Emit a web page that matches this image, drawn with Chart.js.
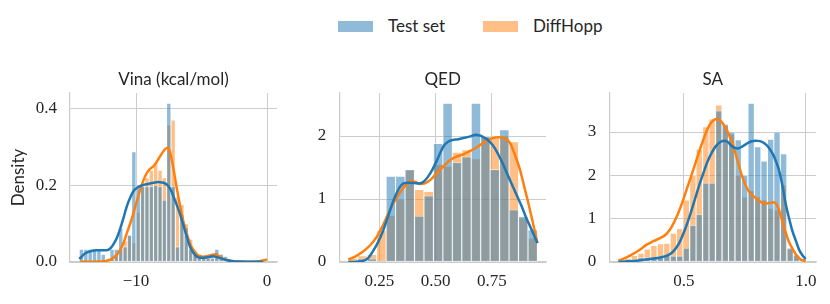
<!DOCTYPE html>
<html><head><meta charset="utf-8">
<script src="https://cdn.jsdelivr.net/npm/chart.js@4.4.1/dist/chart.umd.min.js"></script>
<style>
html,body{margin:0;padding:0;background:#fff;}
#wrap{position:relative;width:830px;height:304px;overflow:hidden;background:#fff;}
canvas{position:absolute;top:0;}
.leg{position:absolute;font-family:Lato,sans-serif;font-size:17px;line-height:20px;color:#262626;white-space:nowrap;}
.patch{position:absolute;width:35px;height:11px;}
</style></head><body>
<div id="wrap">
  <div class="patch" style="left:338px;top:21px;background:rgba(31,119,180,0.5)"></div>
  <div class="leg" style="left:388px;top:16px">Test set</div>
  <div class="patch" style="left:483px;top:21px;background:rgba(255,127,14,0.5)"></div>
  <div class="leg" style="left:533px;top:16px">DiffHopp</div>
  <canvas id="c1" width="290" height="304" style="left:0px"></canvas>
  <canvas id="c2" width="270" height="304" style="left:290px"></canvas>
  <canvas id="c3" width="270" height="304" style="left:560px"></canvas>
</div>
<script>
// ---------- Vina (kcal/mol) ----------
const vinaBins = [-14.167,-13.833,-13.5,-13.167,-12.833,-12.5,-12.167,-11.833,-11.5,-11.167,-10.833,-10.5,-10.167,-9.833,-9.5,-9.167,-8.833,-8.5,-8.167,-7.833,-7.5,-7.167,-6.833,-6.5,-6.167,-5.833,-5.5,-5.167,-4.833,-4.5,-4.167,-3.833,-3.5,-3.167,-2.833,-2.5,-2.167,-1.833,-1.5,-1.167,-0.833,-0.5,-0.167];
const vinaTest = [0.033,0.033,0.033,0.033,0.033,0.02,0,0.033,0.033,0.088,0.04,0.07,0.288,0.197,0.197,0.197,0.197,0.2,0.197,0.162,0.415,0.197,0.04,0.125,0.09,0.033,0.02,0.01,0.01,0.01,0.01,0.033,0.02,0.015,0.005,0,0,0,0,0,0,0,0];
const vinaDiff = [0.003,0,0,0.003,0.003,0.007,0.01,0.01,0.02,0.035,0.055,0.07,0.05,0.13,0.2,0.22,0.24,0.26,0.24,0.22,0.358,0.371,0.17,0.15,0.1,0.06,0.03,0.02,0.015,0.015,0.02,0.025,0.02,0.01,0.005,0,0,0,0,0,0,0,0.01];
const vinaKdeTestX = [-14.33,-13.9,-13.5,-13.0,-12.5,-12.24,-11.95,-11.73,-11.45,-11.22,-10.95,-10.71,-10.45,-10.2,-9.9,-9.57,-9.1,-8.68,-8.3,-8.04,-7.75,-7.53,-7.3,-7.15,-6.9,-6.64,-6.4,-6.13,-5.9,-5.63,-5.35,-5.11,-4.85,-4.6,-4.3,-4.1,-3.85,-3.59,-3.3,-3.08,-2.57,-2.0,-1.0,-0.3];
const vinaKdeTestY = [0.008,0.022,0.028,0.031,0.031,0.031,0.036,0.046,0.064,0.086,0.116,0.145,0.168,0.185,0.195,0.2,0.204,0.207,0.209,0.208,0.205,0.198,0.185,0.172,0.15,0.125,0.097,0.067,0.042,0.024,0.014,0.011,0.011,0.012,0.014,0.015,0.013,0.01,0.007,0.005,0.002,0.001,0.0005,0.0005];
const vinaKdeDiffX = [-14.3,-13.5,-12.75,-12.24,-11.95,-11.73,-11.45,-11.22,-10.95,-10.71,-10.45,-10.2,-9.95,-9.69,-9.45,-9.19,-8.95,-8.68,-8.42,-8.17,-7.9,-7.66,-7.5,-7.35,-7.15,-6.9,-6.64,-6.4,-6.13,-5.9,-5.63,-5.35,-5.11,-4.85,-4.6,-4.3,-3.97,-3.7,-3.46,-3.1,-2.82,-2.3,-1.5,-0.8,-0.4,-0.15,0.0];
const vinaKdeDiffY = [0.0005,0.0005,0.001,0.003,0.006,0.011,0.02,0.032,0.05,0.075,0.1,0.127,0.158,0.188,0.212,0.232,0.243,0.25,0.262,0.276,0.29,0.298,0.296,0.28,0.245,0.195,0.148,0.108,0.075,0.05,0.032,0.02,0.015,0.014,0.015,0.018,0.02,0.016,0.01,0.005,0.003,0.001,0.0005,0.001,0.003,0.005,0.007];
const vinaXTicks = [-10, 0];
const vinaXLabels = ['\u221210', '0'];
const vinaYTicks = [0, 0.2, 0.4];
const vinaYLabels = ['0.0', '0.2', '0.4'];

// ---------- QED ----------
const qedBins = [0.133,0.175,0.217,0.259,0.301,0.343,0.385,0.427,0.469,0.511,0.553,0.595,0.637,0.679,0.721,0.763,0.805,0.847,0.889,0.931];
const qedTest = [0,0.05,0.05,0,1.36,1.36,1.47,0.73,1.05,1.88,2.52,1.58,1.67,2.52,1.99,1.47,2.1,0.83,0.72,0.51];
const qedDiff = [0.06,0.1,0.12,0.5,0.74,1.0,1.46,1.15,1.12,1.55,1.52,1.74,1.78,1.64,2.0,1.96,2.0,1.91,0.7,0.38];
const qedKdeTestX = [0.112,0.15,0.18,0.2,0.223,0.245,0.267,0.29,0.311,0.33,0.345,0.362,0.382,0.405,0.426,0.44,0.456,0.478,0.5,0.52,0.537,0.555,0.574,0.6,0.619,0.65,0.678,0.695,0.708,0.73,0.752,0.775,0.797,0.825,0.856,0.88,0.9,0.925,0.952];
const qedKdeTestY = [0.0,0.005,0.02,0.06,0.18,0.32,0.5,0.74,0.96,1.12,1.21,1.255,1.26,1.255,1.245,1.26,1.31,1.42,1.57,1.73,1.85,1.91,1.935,1.95,1.965,1.99,2.02,2.01,1.99,1.94,1.86,1.73,1.57,1.34,1.09,0.9,0.72,0.52,0.3];
const qedKdeDiffX = [0.112,0.14,0.179,0.21,0.238,0.268,0.297,0.325,0.349,0.37,0.393,0.41,0.43,0.452,0.475,0.497,0.519,0.54,0.564,0.59,0.623,0.645,0.668,0.69,0.712,0.735,0.757,0.78,0.8,0.815,0.83,0.85,0.875,0.893,0.912,0.93,0.952];
const qedKdeDiffY = [0.04,0.08,0.17,0.27,0.4,0.6,0.83,1.01,1.14,1.23,1.28,1.27,1.24,1.25,1.3,1.38,1.46,1.54,1.62,1.67,1.71,1.75,1.79,1.84,1.89,1.94,1.97,1.98,1.97,1.95,1.89,1.72,1.46,1.2,0.93,0.65,0.3];
const qedXTicks = [0.25, 0.5, 0.75];
const qedXLabels = ['0.25', '0.50', '0.75'];
const qedYTicks = [0, 1, 2];
const qedYLabels = ['0', '1', '2'];

// ---------- SA ----------
const saBins = [0.244,0.271,0.297,0.324,0.350,0.377,0.404,0.430,0.457,0.483,0.510,0.537,0.563,0.590,0.616,0.643,0.670,0.696,0.723,0.749,0.776,0.803,0.829,0.856,0.882,0.909,0.936,0.962,0.989];
const saTest = [0,0.02,0.05,0.1,0.1,0.1,0.12,0.16,0.14,0.14,0.32,0.85,1.1,1.82,1.82,3.49,3.18,3.0,2.82,2.0,3.66,2.66,2.33,2.83,3.0,2.5,0.32,0.16,0.08];
const saDiff = [0.03,0.08,0.15,0.2,0.3,0.38,0.42,0.43,0.66,0.77,1.43,2.0,2.6,3.12,3.3,3.62,3.15,2.95,2.0,1.5,1.65,1.5,1.43,1.24,1.2,1.78,0.3,0.16,0.08];
const saKdeTestX = [0.231,0.27,0.306,0.34,0.374,0.4,0.428,0.445,0.462,0.48,0.496,0.513,0.53,0.547,0.564,0.581,0.598,0.615,0.632,0.65,0.667,0.68,0.694,0.707,0.721,0.738,0.755,0.775,0.796,0.813,0.83,0.847,0.864,0.878,0.891,0.905,0.918,0.932,0.945,0.96,0.973,0.987,1.0];
const saKdeTestY = [0.0,0.015,0.03,0.055,0.08,0.1,0.14,0.19,0.28,0.43,0.63,0.88,1.17,1.48,1.79,2.07,2.33,2.53,2.68,2.77,2.8,2.77,2.69,2.64,2.62,2.66,2.72,2.78,2.8,2.79,2.74,2.65,2.5,2.32,2.1,1.74,1.33,1.0,0.72,0.48,0.28,0.15,0.07];
const saKdeDiffX = [0.231,0.258,0.286,0.316,0.347,0.375,0.402,0.425,0.443,0.46,0.477,0.494,0.511,0.531,0.552,0.572,0.593,0.61,0.627,0.638,0.648,0.662,0.675,0.689,0.703,0.716,0.73,0.744,0.757,0.771,0.785,0.8,0.812,0.825,0.839,0.853,0.867,0.877,0.887,0.9,0.914,0.93,0.948,0.965,0.982,1.0];
const saKdeDiffY = [0.03,0.09,0.17,0.27,0.4,0.48,0.55,0.63,0.75,0.92,1.13,1.38,1.67,2.0,2.36,2.7,3.02,3.2,3.29,3.3,3.27,3.18,3.06,2.88,2.68,2.42,2.14,1.9,1.72,1.6,1.52,1.45,1.4,1.36,1.35,1.36,1.38,1.35,1.25,1.02,0.75,0.48,0.28,0.13,0.05,0.02];
const saXTicks = [0.5, 1.0];
const saXLabels = ['0.5', '1.0'];
const saYTicks = [0, 1, 2, 3];
const saYLabels = ['0', '1', '2', '3'];

// ---------- styling ----------
const BLUE = '#1f77b4', ORANGE = '#ff7f0e';
const BLUE_FILL = 'rgba(31,119,180,0.5)', ORANGE_FILL = 'rgba(255,127,14,0.5)';
const TEXT = '#262626', GRID = '#cccccc';
const tickFont = {family: 'Liberation Serif', size: 17};
const sansFont = {family: 'Lato', size: 17, weight: 'normal'};

function hist(bins, vals, color, order) {
  return {type: 'bar', data: bins.map((x, i) => ({x: x, y: vals[i]})),
    backgroundColor: color, borderColor: 'rgba(255,255,255,0.5)', borderWidth: 0.8,
    borderSkipped: false, barPercentage: 1, categoryPercentage: 1, grouped: false, order: order};
}
function kde(xs, ys, color, order) {
  return {type: 'line', data: xs.map((x, i) => ({x: x, y: ys[i]})),
    borderColor: color, borderWidth: 2.5, pointRadius: 0, fill: false,
    cubicInterpolationMode: 'monotone', order: order};
}
function panel(id, c) {
  new Chart(document.getElementById(id), {
    type: 'bar',
    data: {datasets: [
      kde(c.ktx, c.kty, BLUE, 0),
      kde(c.kdx, c.kdy, ORANGE, 1),
      hist(c.bins, c.test, BLUE_FILL, 2),
      hist(c.bins, c.diff, ORANGE_FILL, 3)
    ]},
    options: {
      responsive: false, animation: false, events: [],
      layout: {padding: {top: 69.3, right: c.padRight, left: 0, bottom: 0}},
      plugins: {
        legend: {display: false}, tooltip: {enabled: false},
        title: {display: true, text: c.title, fullSize: false, font: sansFont, color: TEXT,
                padding: {top: 0, bottom: 3.3}}
      },
      scales: {
        x: {type: 'linear', min: c.xmin, max: c.xmax, offset: false,
            grid: {color: GRID, lineWidth: 1, drawTicks: false, offset: false},
            border: {display: true, color: GRID, width: 1.2},
            ticks: {font: tickFont, color: TEXT, padding: 9.5, autoSkip: false, maxRotation: 0,
                    callback: (v, i) => c.xl[i]},
            afterBuildTicks: s => { s.ticks = c.xt.map(v => ({value: v})); },
            afterFit: s => { s.height = 42; }},
        y: {type: 'linear', min: 0, max: c.ymax,
            grid: {color: GRID, lineWidth: 1, drawTicks: false},
            border: {display: true, color: GRID, width: 1.2},
            ticks: {font: tickFont, color: TEXT, padding: 13, autoSkip: false,
                    callback: (v, i) => c.yl[i]},
            title: {display: !!c.ytitle, text: c.ytitle || '', font: sansFont, color: TEXT,
                    padding: {top: 8.6, bottom: 0}},
            afterBuildTicks: s => { s.ticks = c.yt.map(v => ({value: v})); },
            afterFit: s => { s.width = c.yw; }}
      }
    }
  });
}

panel('c1', {title: 'Vina (kcal/mol)', ytitle: 'Density', bins: vinaBins, test: vinaTest, diff: vinaDiff,
  ktx: vinaKdeTestX, kty: vinaKdeTestY, kdx: vinaKdeDiffX, kdy: vinaKdeDiffY,
  xmin: -15.04, xmax: 0.76, ymax: 0.4418, xt: vinaXTicks, xl: vinaXLabels, yt: vinaYTicks, yl: vinaYLabels,
  yw: 70, padRight: 13});
panel('c2', {title: 'QED', bins: qedBins, test: qedTest, diff: qedDiff,
  ktx: qedKdeTestX, kty: qedKdeTestY, kdx: qedKdeDiffX, kdy: qedKdeDiffY,
  xmin: 0.072, xmax: 0.99, ymax: 2.683, xt: qedXTicks, xl: qedXLabels, yt: qedYTicks, yl: qedYLabels,
  yw: 49.3, padRight: 14});
panel('c3', {title: 'SA', bins: saBins, test: saTest, diff: saDiff,
  ktx: saKdeTestX, kty: saKdeTestY, kdx: saKdeDiffX, kdy: saKdeDiffY,
  xmin: 0.194, xmax: 1.042, ymax: 3.90, xt: saXTicks, xl: saXLabels, yt: saYTicks, yl: saYLabels,
  yw: 49.3, padRight: 14});
</script>
</body></html>
